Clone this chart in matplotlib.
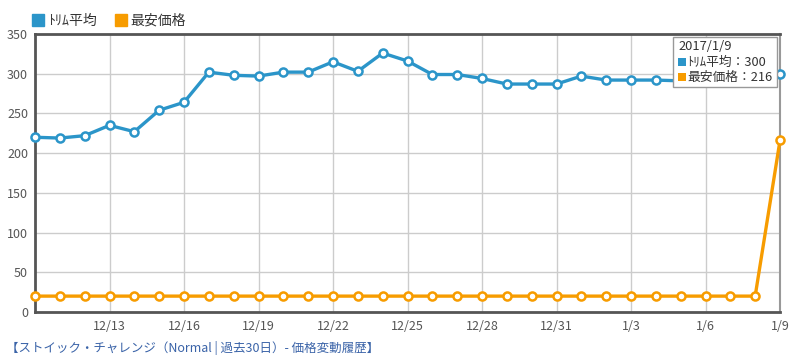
import pandas as pd
import matplotlib.pyplot as plt
import matplotlib.dates as mdates
from matplotlib.lines import Line2D
from matplotlib.patches import Rectangle

plt.rcParams['font.family'] = ['Noto Sans CJK JP', 'DejaVu Sans']

# Daily values 2016/12/10 .. 2017/1/9
dates = pd.date_range('2016-12-10', '2017-01-09', freq='D')
trim_avg = [220, 219, 222, 235, 227, 254, 264, 302, 298, 297,
            302, 302, 315, 303, 326, 316, 299, 299, 294, 287,
            287, 287, 297, 292, 292, 292, 291, 291, 291, 291, 300]
lowest = [20] * 30 + [216]

blue = '#2b95c9'
orange = '#f79c00'
W, H = 793, 358


def fx(x):
    return x / W


def fy(y):
    return 1 - y / H


fig = plt.figure(figsize=(W / 100, H / 100), dpi=100)
ax = fig.add_axes([fx(35), fy(312), fx(780) - fx(35), fy(34) - fy(312)])

ax.plot(dates, trim_avg, color=blue, lw=2.4, marker='o', ms=5.8,
        mfc='white', mec=blue, mew=1.8, clip_on=False, zorder=3)
ax.plot(dates, lowest, color=orange, lw=2.4, marker='o', ms=5.8,
        mfc='white', mec=orange, mew=1.8, clip_on=False, zorder=3)

ax.set_xlim(dates[0], dates[-1])
ax.set_ylim(0, 350)
ax.set_yticks(range(0, 351, 50))
ax.set_xticks(dates[3::3])
ax.xaxis.set_major_formatter(mdates.DateFormatter('%-m/%-d'))
ax.grid(True, color='#cccccc', lw=1)
ax.set_axisbelow(True)
ax.tick_params(length=0, labelsize=9, colors='#555555', pad=6)
ax.tick_params(axis='y', pad=5)
for s in ['left', 'bottom', 'top']:
    ax.spines[s].set_color('#555555')
    ax.spines[s].set_linewidth(2)
ax.spines['right'].set_color('#999999')
ax.spines['right'].set_linewidth(1.5)

# legend above the plot
handles = [Line2D([], [], ls='none', marker='s', ms=8, color=blue),
           Line2D([], [], ls='none', marker='s', ms=8, color=orange)]
fig.legend(handles, ['ﾄﾘﾑ平均', '最安価格'], loc='center left',
           bbox_to_anchor=(fx(33), fy(21)), ncol=2, frameon=False,
           borderpad=0, borderaxespad=0, fontsize=10, handlelength=0.7,
           handletextpad=0.35, columnspacing=1.4, labelcolor='#333333')

# hover tooltip for 2017/1/9
fig.patches.append(Rectangle((fx(673), fy(87)), fx(777) - fx(673), fy(37) - fy(87),
                             transform=fig.transFigure, facecolor='white',
                             edgecolor='#999999', lw=1, zorder=5))
fig.text(fx(678), fy(46), '2017/1/9', fontsize=9.3, color='#333333', va='center', zorder=6)
fig.patches.append(Rectangle((fx(678), fy(66)), fx(8), fx(8) * W / H,
                             transform=fig.transFigure, facecolor=blue, lw=0, zorder=6))
fig.text(fx(687), fy(62), f'ﾄﾘﾑ平均：{trim_avg[-1]}', fontsize=9.2, color='#333333',
         va='center', zorder=6)
fig.patches.append(Rectangle((fx(678), fy(81)), fx(8), fx(8) * W / H,
                             transform=fig.transFigure, facecolor=orange, lw=0, zorder=6))
fig.text(fx(687), fy(77), f'最安価格：{lowest[-1]}', fontsize=9.2, color='#333333',
         va='center', zorder=6)

fig.text(fx(6), fy(348), '【ストイック・チャレンジ（Normal | 過去30日）- 価格変動履歴】',
         fontsize=9, color='#3a63a8', va='center')

fig.savefig('out.png', dpi=100)
